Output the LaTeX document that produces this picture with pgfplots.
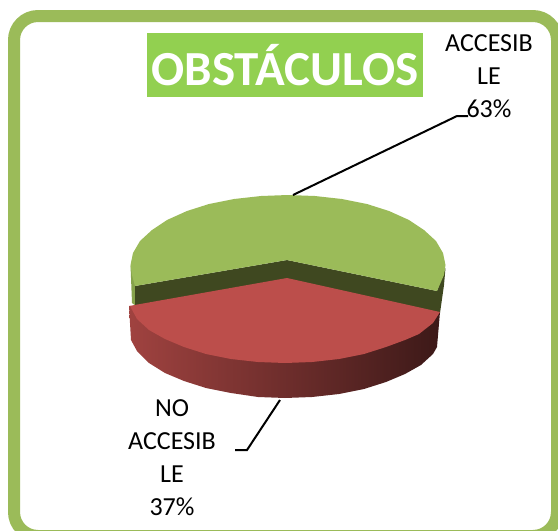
\documentclass[border=0pt]{standalone}
\usepackage{fontspec}
\setmainfont{Carlito}
\usepackage{pgfplots}
\pgfplotsset{compat=1.18}
\definecolor{frameg}{HTML}{9BBB59}
\definecolor{titleg}{HTML}{92D050}
\definecolor{pieg}{HTML}{9BBB59}
\definecolor{darkg}{HTML}{3F4820}
\definecolor{sideg}{HTML}{86A34C}
\definecolor{piered}{HTML}{BC4E4B}
\begin{document}
\begin{tikzpicture}
\begin{axis}[
  scale only axis, width=558pt, height=531pt,
  xmin=0, xmax=558, ymin=0, ymax=531, y dir=reverse,
  hide axis, clip=true]
% frame
\addplot[draw=frameg, line width=12pt, rounded corners=24pt] coordinates {
 (14,200) (14,16) (557,16) (557,536) (14,536) (14,200)};
% title box
\addplot[fill=titleg, draw=none] coordinates {(147,33) (423,33) (423,97) (147,97)} -- cycle;
% green walls
\addplot[fill=sideg, draw=none] coordinates {(130.5,265) (132,303) (136,306) (136,285)} -- cycle;
\addplot[fill=darkg, draw=none] coordinates {(135,286) (287,260) (437,291) (445.5,268) (444,285) (440,313) (287,279) (135,306)} -- cycle;
% green top
\addplot[fill=pieg, draw=none] coordinates {
 (135,286) (132,275) (130.5,265) (133,253) (140,241) (152,230) (167,220) (187,211)
 (209,204) (234,199) (261,196) (288,195) (315,196) (342,199) (367,204) (389,211)
 (409,220) (424,230) (436,241) (443,253) (445.5,265) (444,275) (437,291) (287,260)} -- cycle;
% red wall
\addplot[left color=piered!85!black, middle color=piered!55!black, right color=piered!32!black, draw=none] coordinates {
 (129,306) (131,340) (137,351) (149,363) (165,373) (184,381) (206,388) (231,393) (258,397) (285,398)
 (312,397) (339,394) (364,389) (386,382) (405,374) (421,365) (433,354) (437,347) (440,312)} -- cycle;
% red top
\addplot[fill=piered, draw=none] coordinates {
 (287,278) (129,306) (130,306) (137,319) (149,330) (165,339) (184,347) (206,354) (231,359) (258,362) (285,363)
 (312,362) (339,359) (364,354) (386,347) (405,340) (419,334) (433,323) (440,312)} -- cycle;
% leaders
\addplot[draw=black, line width=2pt] coordinates {(293,195) (457,116) (468,116)};
\addplot[draw=black, line width=2pt] coordinates {(280,400) (247,450) (235,450)};
% text
\node[text=white, font=\bfseries\fontsize{49}{49}\selectfont, anchor=center] at (axis cs:285,65) {OBSTÁCULOS};
\node[text=black, font=\fontsize{26}{33}\selectfont, align=center, anchor=center] at (axis cs:489,76) {ACCESIB\\LE\\63\%};
\node[text=black, font=\fontsize{26}{33}\selectfont, align=center, anchor=center] at (axis cs:172,458) {NO\\ACCESIB\\LE\\37\%};
\end{axis}
\path[use as bounding box] (0,0) rectangle (558pt,531pt);
\end{tikzpicture}
\end{document}
